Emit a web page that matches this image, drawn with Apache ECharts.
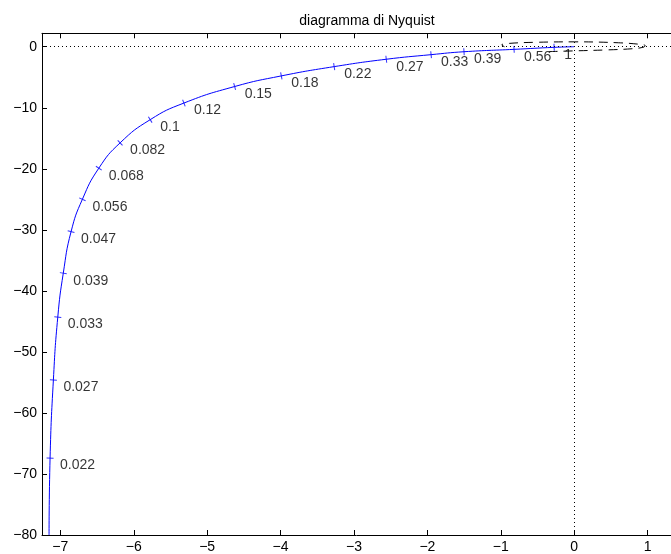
<!DOCTYPE html>
<html>
<head>
<meta charset="utf-8">
<script src="https://cdn.jsdelivr.net/npm/echarts@6/dist/echarts.min.js"></script>
<style>html,body{margin:0;padding:0;background:#fff}#c{width:671px;height:554px}</style>
</head>
<body>
<div id="c"></div>
<script>
// ---- data ----
const xTicks = [-7, -6, -5, -4, -3, -2, -1, 0, 1];
const yTicks = [0, -10, -20, -30, -40, -50, -60, -70, -80];
const freqLabels = ['0.022','0.027','0.033','0.039','0.047','0.056','0.068','0.082','0.1','0.12','0.15','0.18','0.22','0.27','0.33','0.39','0.56','1'];
const markerX = [-7.14, -7.095, -7.035, -6.96, -6.854, -6.70, -6.476, -6.186, -5.776, -5.317, -4.626, -3.99, -3.27, -2.56, -1.95, -1.502, -0.82, -0.274];
const markerY = [-67.4, -54.6, -44.3, -37.1, -30.3, -25.0, -19.9, -15.75, -11.95, -9.23, -6.52, -4.78, -3.26, -2.05, -1.3, -0.82, -0.43, -0.10];
const curveStartX = [-7.154];
const curveStartY = [-80];
const curveEndX = [0];
const curveEndY = [0];
const loopX = [-0.35, 0.0, 0.45, 0.8, 0.95, 0.965, 0.93, 0.6, 0.0, -0.55, -0.88, -0.99, -0.95];
const loopY = [-0.8, -0.68, -0.52, -0.32, -0.05, 0.2, 0.35, 0.65, 0.8, 0.72, 0.55, 0.3, 0.0];

const curveData = []
  .concat(curveStartX.map((x, i) => [x, curveStartY[i]]))
  .concat(markerX.map((x, i) => [x, markerY[i]]))
  .concat(curveEndX.map((x, i) => [x, curveEndY[i]]));
const markerData = markerX.map((x, i) => ({ value: [x, markerY[i]], name: freqLabels[i] }));
const loopData = loopX.map((x, i) => [x, loopY[i]]);

const FONT = 'Liberation Sans, Arial, Helvetica, sans-serif';
const minus = v => String(v).replace('-', '\u2212');

const chart = echarts.init(document.getElementById('c'), null, { renderer: 'canvas' });
const axisCommon = {
  axisLine: { show: true, onZero: false, lineStyle: { color: '#000', width: 1 } },
  splitLine: { show: false },
};
const X_MIN = -7.25, X_MAX = 1.318;
const option = {
  animation: false,
  backgroundColor: '#fff',
  title: {
    text: 'diagramma di Nyquist',
    left: 362, top: 9, textAlign: 'center',
    textStyle: { fontFamily: FONT, fontSize: 14, fontWeight: 'normal', color: '#000' }
  },
  grid: { left: 42, top: 33.3, right: 0, bottom: 16.3, containLabel: false },
  xAxis: [
    Object.assign({}, axisCommon, {
      type: 'value', position: 'bottom', min: X_MIN, max: X_MAX,
      axisTick: { show: true, inside: true, length: 5, customValues: xTicks, lineStyle: { color: '#000' } },
      axisLabel: { show: true, customValues: xTicks, formatter: minus, margin: 5,
        fontFamily: FONT, fontSize: 14, color: '#000' }
    }),
    Object.assign({}, axisCommon, {
      type: 'value', position: 'top', min: X_MIN, max: X_MAX,
      axisTick: { show: true, inside: true, length: 5, customValues: xTicks, lineStyle: { color: '#000' } },
      axisLabel: { show: false }
    })
  ],
  yAxis: [
    Object.assign({}, axisCommon, {
      type: 'value', position: 'left', min: -80, max: 2.2,
      axisTick: { show: true, inside: true, length: 5, customValues: yTicks, lineStyle: { color: '#000' } },
      axisLabel: { show: true, customValues: yTicks, formatter: minus, margin: 5,
        fontFamily: FONT, fontSize: 14, color: '#000' }
    })
  ],
  series: [
    {
      type: 'line', name: 'axes0', data: [], silent: true, symbol: 'none',
      markLine: {
        silent: true, symbol: 'none', label: { show: false },
        lineStyle: { color: '#000', width: 1, type: [1, 3] },
        data: [{ xAxis: 0 }, { yAxis: 0 }]
      }
    },
    {
      type: 'line', name: 'curve', data: curveData, showSymbol: false, symbol: 'none',
      smooth: 0.5,
      lineStyle: { color: '#0000ff', width: 1 }, silent: true, z: 3
    },
    {
      type: 'line', name: 'loop', data: loopData, showSymbol: false, symbol: 'none',
      smooth: 0.4,
      lineStyle: { color: '#000', width: 1, type: [9, 6] }, silent: true, z: 3
    },
    {
      type: 'scatter', name: 'marks', data: markerData,
      symbol: 'rect', symbolSize: [1, 7],
      itemStyle: { color: '#0000ff' }, silent: true, z: 4,
      label: {
        show: true, position: 'inside', align: 'left', verticalAlign: 'middle',
        offset: [10, 7.5], formatter: p => p.name,
        fontFamily: FONT, fontSize: 14, color: '#000'
      }
    }
  ]
};
chart.setOption(option);

// orient tick marks perpendicular to the curve
const px = curveData.map(p => chart.convertToPixel({ xAxisIndex: 0, yAxisIndex: 0 }, p));
const rotated = markerData.map((d, i) => {
  const k = i + 1; // index in curveData
  const a = px[k - 1], b = px[k + 1];
  const ang = Math.atan2(-(b[1] - a[1]), b[0] - a[0]) * 180 / Math.PI;
  return Object.assign({}, d, { symbolRotate: ang });
});
chart.setOption({ series: [{}, {}, {}, { data: rotated }] });
</script>
</body>
</html>
